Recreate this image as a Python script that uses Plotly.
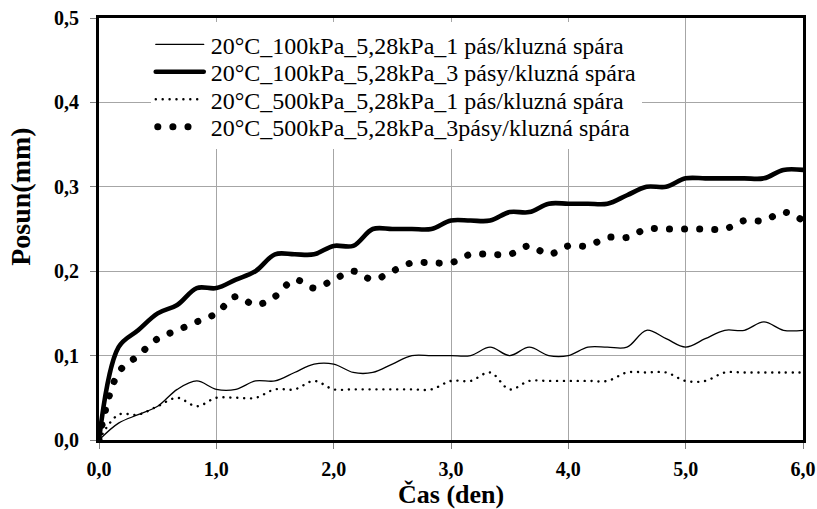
import plotly.graph_objects as go

# time in days (4-hour steps)
cas_den = [k / 6 for k in range(37)]

s100_1pas = [0.00, 0.02, 0.03, 0.04, 0.06, 0.07, 0.06, 0.06, 0.07, 0.07, 0.08, 0.09, 0.09,
             0.08, 0.08, 0.09, 0.10, 0.10, 0.10, 0.10, 0.11, 0.10, 0.11, 0.10, 0.10,
             0.11, 0.11, 0.11, 0.13, 0.12, 0.11, 0.12, 0.13, 0.13, 0.14, 0.13, 0.13]
s100_3pasy = [0.00, 0.11, 0.13, 0.15, 0.16, 0.18, 0.18, 0.19, 0.20, 0.22, 0.22, 0.22, 0.23,
              0.23, 0.25, 0.25, 0.25, 0.25, 0.26, 0.26, 0.26, 0.27, 0.27, 0.28, 0.28,
              0.28, 0.28, 0.29, 0.30, 0.30, 0.31, 0.31, 0.31, 0.31, 0.31, 0.32, 0.32]
s500_1pas = [0.00, 0.03, 0.03, 0.04, 0.05, 0.04, 0.05, 0.05, 0.05, 0.06, 0.06, 0.07, 0.06,
             0.06, 0.06, 0.06, 0.06, 0.06, 0.07, 0.07, 0.08, 0.06, 0.07, 0.07, 0.07,
             0.07, 0.07, 0.08, 0.08, 0.08, 0.07, 0.07, 0.08, 0.08, 0.08, 0.08, 0.08]
s500_3pasy = [0.00, 0.08, 0.10, 0.12, 0.13, 0.14, 0.15, 0.17, 0.16, 0.17, 0.19, 0.18, 0.19,
              0.20, 0.19, 0.20, 0.21, 0.21, 0.21, 0.22, 0.22, 0.22, 0.23, 0.22, 0.23,
              0.23, 0.24, 0.24, 0.25, 0.25, 0.25, 0.25, 0.25, 0.26, 0.26, 0.27, 0.26]

names = ["20°C_100kPa_5,28kPa_1 pás/kluzná spára",
         "20°C_100kPa_5,28kPa_3 pásy/kluzná spára",
         "20°C_500kPa_5,28kPa_1 pás/kluzná spára",
         "20°C_500kPa_5,28kPa_3pásy/kluzná spára"]

x_ticks = [0, 1, 2, 3, 4, 5, 6]
y_ticks = [0, 0.1, 0.2, 0.3, 0.4, 0.5]

FONT = "Liberation Serif"

fig = go.Figure()
styles = [
    dict(width=1.3, dash="solid"),
    dict(width=4.6, dash="solid"),
    dict(width=2.4, dash="0.1px,6.8px"),
    dict(width=7, dash="0.1px,15px"),
]
for name, ys, st in zip(names, [s100_1pas, s100_3pasy, s500_1pas, s500_3pasy], styles):
    fig.add_trace(go.Scatter(x=cas_den, y=ys, name=name, mode="lines",
                             line=dict(color="black", width=st["width"], dash=st["dash"],
                                       shape="spline", smoothing=1)))

axis_common = dict(showline=True, linecolor="black", linewidth=3, mirror=True,
                   showgrid=True, gridcolor="#a6a6a6", gridwidth=1, zeroline=False,
                   ticks="outside", ticklen=6, tickcolor="#808080", tickwidth=1,
                   automargin=False,
                   tickfont=dict(family=FONT, size=20, color="black", weight="bold"))

fig.update_xaxes(range=[0, 6], tickvals=x_ticks, tickformat=".1f",
                 ticklabelstandoff=3, **axis_common)
fig.update_yaxes(range=[0, 0.5], tickvals=y_ticks, tickformat=".1f",
                 ticklabelstandoff=7, **axis_common)

fig.update_layout(
    width=817, height=509,
    margin=dict(l=99, r=14, t=18, b=69),
    paper_bgcolor="white", plot_bgcolor="white",
    separators=", ",
    font=dict(family=FONT, color="black"),
    showlegend=True,
    legend=dict(x=0.0735, y=0.99, xanchor="left", yanchor="top",
                bgcolor="rgba(255,255,255,1)", borderwidth=0,
                font=dict(family=FONT, size=24, color="black"),
                itemwidth=50, tracegroupgap=0),
    annotations=[
        dict(text="<b>Posun(mm)</b>", textangle=-90, xref="paper", yref="paper",
             x=-0.111, y=0.576, xanchor="center", yanchor="middle", showarrow=False,
             font=dict(family=FONT, size=28, color="black")),
        dict(text="<b>Čas (den)</b>", xref="paper", yref="paper",
             x=0.5, y=-0.129, xanchor="center", yanchor="middle", showarrow=False,
             font=dict(family=FONT, size=26, color="black")),
    ],
)

post_js = """
document.documentElement.style.margin = '0';
document.body.style.margin = '0';
document.body.style.overflow = 'hidden';
var gd = document.getElementById('{plot_id}');
gd.querySelectorAll('path.js-line').forEach(function(p){
  p.style.strokeLinecap = 'round'; p.style.strokeLinejoin = 'round';
});
var items = gd.querySelectorAll('.legend .traces');
var ys = [], x0 = 0, step = 27.5;
items.forEach(function(t, i){
  var p = t.querySelector('path.js-line');
  if (p) { p.setAttribute('d', i === 3 ? 'M7,0h32' : 'M5,0h48'); }
  var m = /translate\\(([-\\d.]+)[ ,]+([-\\d.]+)\\)/.exec(t.getAttribute('transform') || '');
  if (m) { ys.push(parseFloat(m[2])); if (i === 0) { x0 = parseFloat(m[1]); } }
});
if (ys.length === items.length && ys.length > 1) {
  var origStep = ys[1] - ys[0];
  items.forEach(function(t, i){
    t.setAttribute('transform', 'translate(' + x0 + ',' + (ys[0] + i * step) + ')');
  });
  var bg = gd.querySelector('.legend rect.bg');
  if (bg) {
    var h = parseFloat(bg.getAttribute('height'));
    bg.setAttribute('height', h - (items.length - 1) * (origStep - step));
  }
}
"""

fig.write_html("out.html", post_script=post_js, config={"displayModeBar": False})
